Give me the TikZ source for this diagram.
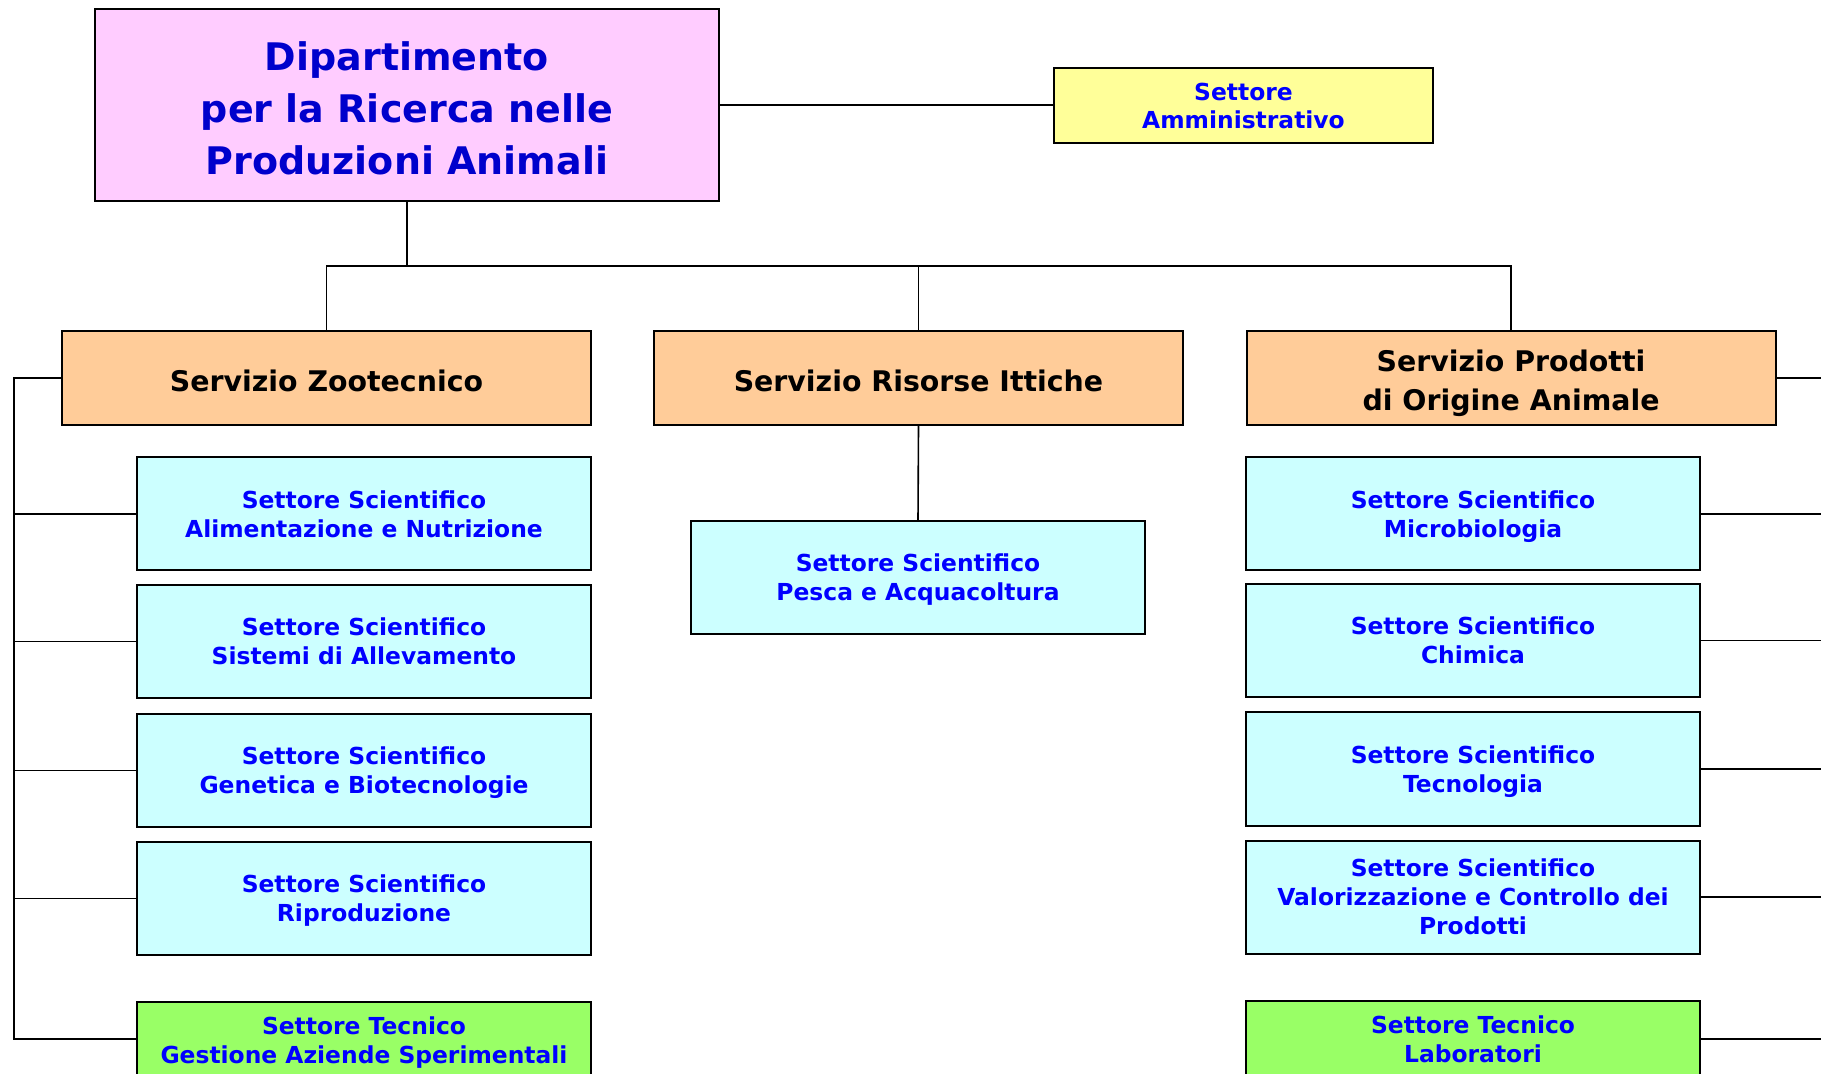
\documentclass[tikz,border=0pt]{standalone}
\usepackage{fontspec}
\setmainfont{DejaVu Sans}
\definecolor{dippink}{HTML}{FFCCFF}
\definecolor{ammyellow}{HTML}{FFFF99}
\definecolor{servorange}{HTML}{FFCC99}
\definecolor{setcyan}{HTML}{CCFFFF}
\definecolor{tecgreen}{HTML}{99FF66}
\definecolor{dipblue}{HTML}{0000CC}
\definecolor{setblue}{HTML}{0000FF}
\begin{document}
\begin{tikzpicture}[x=0.5pt,y=-0.5pt,
  box/.style={draw=black, line width=1pt, align=center, inner sep=0pt, text depth=0pt},
  txt/.style={align=center, inner sep=0pt, text depth=0pt},
  dipbox/.style={box, fill=dippink, minimum width=312pt, minimum height=96pt},
  diptext/.style={txt, text=dipblue, font=\bfseries\fontsize{19}{26}\selectfont},
  ammbox/.style={box, fill=ammyellow, text=setblue, minimum width=189.5pt, minimum height=37.5pt,
    font=\bfseries\fontsize{11.7}{14}\selectfont},
  servbox/.style={box, fill=servorange, minimum width=264.5pt, minimum height=47pt},
  servtext/.style={txt, text=black, font=\bfseries\fontsize{14.2}{19.5}\selectfont},
  setbox/.style={box, fill=setcyan, text=setblue, minimum width=227pt, minimum height=56.5pt,
    font=\bfseries\fontsize{11.7}{14.5}\selectfont},
  tecbox/.style={box, fill=tecgreen, text=setblue, minimum width=227pt, minimum height=38pt,
    font=\bfseries\fontsize{11.7}{14.5}\selectfont},
  conn/.style={draw=black, line width=0.8pt}]
\useasboundingbox (0,0) rectangle (1821,1074);
\clip (0,0) rectangle (1821,1074);
\fill[white] (0,0) rectangle (1821,1074);

% top level
\node[dipbox] (dip) at (407,105) {};
\node[diptext] (diptxt) at ([yshift=-1.3pt]dip.center) {Dipartimento\\per la Ricerca nelle\\Produzioni Animali};
\node[ammbox] (amm) at (1243.5,105.5) {Settore\\Amministrativo};

% servizi
\node[servbox] (sz) at (326.5,378) {};
\node[servtext] (sztxt) at ([yshift=-1.2pt]sz.center) {Servizio Zootecnico};
\node[servbox] (sri) at (918.5,378) {};
\node[servtext] (sritxt) at ([yshift=-1.2pt]sri.center) {Servizio Risorse Ittiche};
\node[servbox] (spoa) at (1511,378) {};
\node[servtext] (spoatxt) at ([yshift=-1.2pt]spoa.center) {Servizio Prodotti\\di Origine Animale};

% left column
\node[setbox] (l1) at (364,514) {Settore Scientifico\\Alimentazione e Nutrizione};
\node[setbox] (l2) at (364,641.5) {Settore Scientifico\\Sistemi di Allevamento};
\node[setbox] (l3) at (364,770.5) {Settore Scientifico\\Genetica e Biotecnologie};
\node[setbox] (l4) at (364,898.5) {Settore Scientifico\\Riproduzione};
\node[tecbox] (l5) at (364,1040) {Settore Tecnico\\Gestione Aziende Sperimentali};

% middle
\node[setbox] (m1) at (918,577.5) {Settore Scientifico\\Pesca e Acquacoltura};

% right column
\node[setbox] (r1) at (1473,514) {Settore Scientifico\\Microbiologia};
\node[setbox] (r2) at (1473,640.5) {Settore Scientifico\\Chimica};
\node[setbox] (r3) at (1473,769) {Settore Scientifico\\Tecnologia};
\node[setbox] (r4) at (1473,897) {Settore Scientifico\\Valorizzazione e Controllo dei\\Prodotti};
\node[tecbox] (r5) at (1473,1039) {Settore Tecnico\\Laboratori};

% coordinates
\coordinate (bus) at (407,266);
\coordinate (lspine) at (14,378);
\coordinate (lend) at (14,1039);
\coordinate (redge) at (1821,0);

% connectors
\draw[conn] (dip.east) -- (dip.east -| amm.west);
\draw[conn] (dip.south) -- (bus);
\draw[conn] (sz.north) |- (bus) -| (spoa.north);
\draw[conn] (bus) -| (sri.north);
\draw[conn] (sri.south) -- (m1.north);

\draw[conn] (sz.west) -- (lspine) -- (lend) -- (lend -| l5.west);
\foreach \n in {l1,l2,l3,l4} \draw[conn] (\n.west) -- (\n.west -| lspine);

\foreach \n in {spoa,r1,r2,r3,r4,r5} \draw[conn] (\n.east) -- (\n.east -| redge);
\end{tikzpicture}
\end{document}
